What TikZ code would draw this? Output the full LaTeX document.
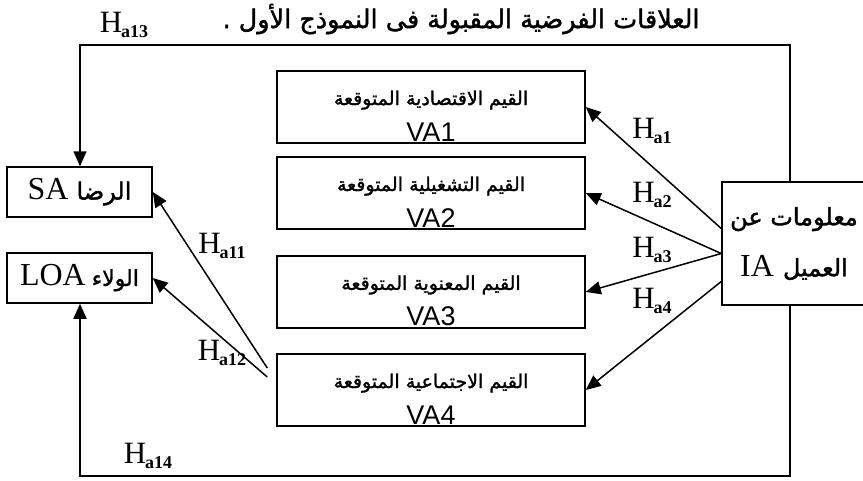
\documentclass[tikz,border=0pt]{standalone}
\usepackage{fontspec}
\setmainfont{Liberation Serif}
\newfontfamily\arabicfont[Script=Arabic,FakeBold=1.5]{DejaVu Sans}
\newfontfamily\vafont{Liberation Sans}
\TeXXeTstate=1
\usetikzlibrary{arrows.meta}

\newcommand{\hyp}[1]{H\kern-1pt\raisebox{-0.3ex}{\fontsize{18}{18}\selectfont\bfseries a#1}}
\newcommand{\ar}{\arabicfont\bfseries}

\begin{document}
\begin{tikzpicture}[x=1pt,y=-1pt,
                    box/.style={draw,line width=1.5pt,inner sep=0pt,align=center},
                    valbox/.style={box,minimum width=308pt,minimum height=72pt,
                                   font=\fontsize{19}{36}\selectfont},
                    sidebox/.style={box,minimum width=145pt,minimum height=50pt},
                    arr/.style={line width=1.5pt,-{Triangle[length=15pt,width=13pt]}},
                    hlab/.style={font=\fontsize{31}{31}\selectfont}
                ]
                \useasboundingbox (0,0) rectangle (863,480);

                % The title
                \node (title) at (461,19) {\arabicfont\fontsize{25.5}{25.5}\selectfont\beginR العلاقات الفرضية المقبولة فى النموذج الأول .\endR};

                % The value boxes
                \node[valbox] (va1) at (431,107) {\rule{0pt}{32pt}{\arabicfont\beginR القيم الاقتصادية المتوقعة\endR}\\{\vafont\fontsize{27}{27}\selectfont VA1}};
                \node[valbox] (va2) at (431,193) {\rule{0pt}{32pt}{\arabicfont\beginR القيم التشغيلية المتوقعة\endR}\\{\vafont\fontsize{27}{27}\selectfont VA2}};
                \node[valbox] (va3) at (431,292) {\rule{0pt}{32pt}{\arabicfont\beginR القيم المعنوية المتوقعة\endR}\\{\vafont\fontsize{27}{27}\selectfont VA3}};
                \node[valbox] (va4) at (431,390) {\rule{0pt}{32pt}{\arabicfont\beginR القيم الاجتماعية المتوقعة\endR}\\{\vafont\fontsize{27}{27}\selectfont VA4}};

                % The side boxes
                \node[sidebox] (sa) at (79.5,192) {\beginR{\arabicfont\fontsize{24}{24}\selectfont الرضا}\hspace{8pt}{\fontsize{32}{32}\selectfont\beginL SA\endL}\endR};
                \node[sidebox] (loa) at (79.5,278) {\beginR{\arabicfont\fontsize{22}{22}\selectfont الولاء}\hspace{6pt}{\fontsize{32}{32}\selectfont\beginL LOA\endL}\endR};
                \node[box,minimum width=144pt,minimum height=123pt,
                      font=\fontsize{24}{51}\selectfont] (ia) at (794,243.5)
                    {{\arabicfont\beginR معلومات عن\endR}\\
                     \beginR{\arabicfont العميل}\hspace{9pt}{\fontsize{32}{32}\selectfont\beginL IA\endL}\endR};

                % The frame
                \coordinate (tl) at (80,45);
                \coordinate (tr) at (790,45);
                \coordinate (bl) at (80,476);
                \coordinate (br) at (790,476);
                \draw[arr] (ia.north -| tr) -- (tr) -- (tl) -- (sa.north -| tl);
                \draw[arr] (ia.south -| br) -- (br) -- (bl) -- (loa.south -| bl);

                % The arrows
                \draw[arr] ([yshift=15pt]ia.west) -- (va1.east);
                \draw[arr] ([yshift=-10pt]ia.west) -- (va2.east);
                \draw[arr] ([yshift=-10pt]ia.west) -- (va3.east);
                \draw[arr] ([yshift=-38pt]ia.west) -- (va4.east);
                \draw[arr] ([shift={(-9pt,22pt)}]va4.west) -- (sa.east);
                \draw[arr] ([shift={(-9pt,13pt)}]va4.west) -- (loa.east);

                % The labels
                \node[hlab] (h1) at (652,131) {\hyp{1}};
                \node[hlab] (h2) at (652,195) {\hyp{2}};
                \node[hlab] (h3) at (652,250) {\hyp{3}};
                \node[hlab] (h4) at (652,301) {\hyp{4}};
                \node[hlab] (h11) at (222,246) {\hyp{11}};
                \node[hlab] (h12) at (222,353) {\hyp{12}};
                \node[hlab] (h13) at (124,25) {\hyp{13}};
                \node[hlab] (h14) at (148,456) {\hyp{14}};
            \end{tikzpicture}
\end{document}
